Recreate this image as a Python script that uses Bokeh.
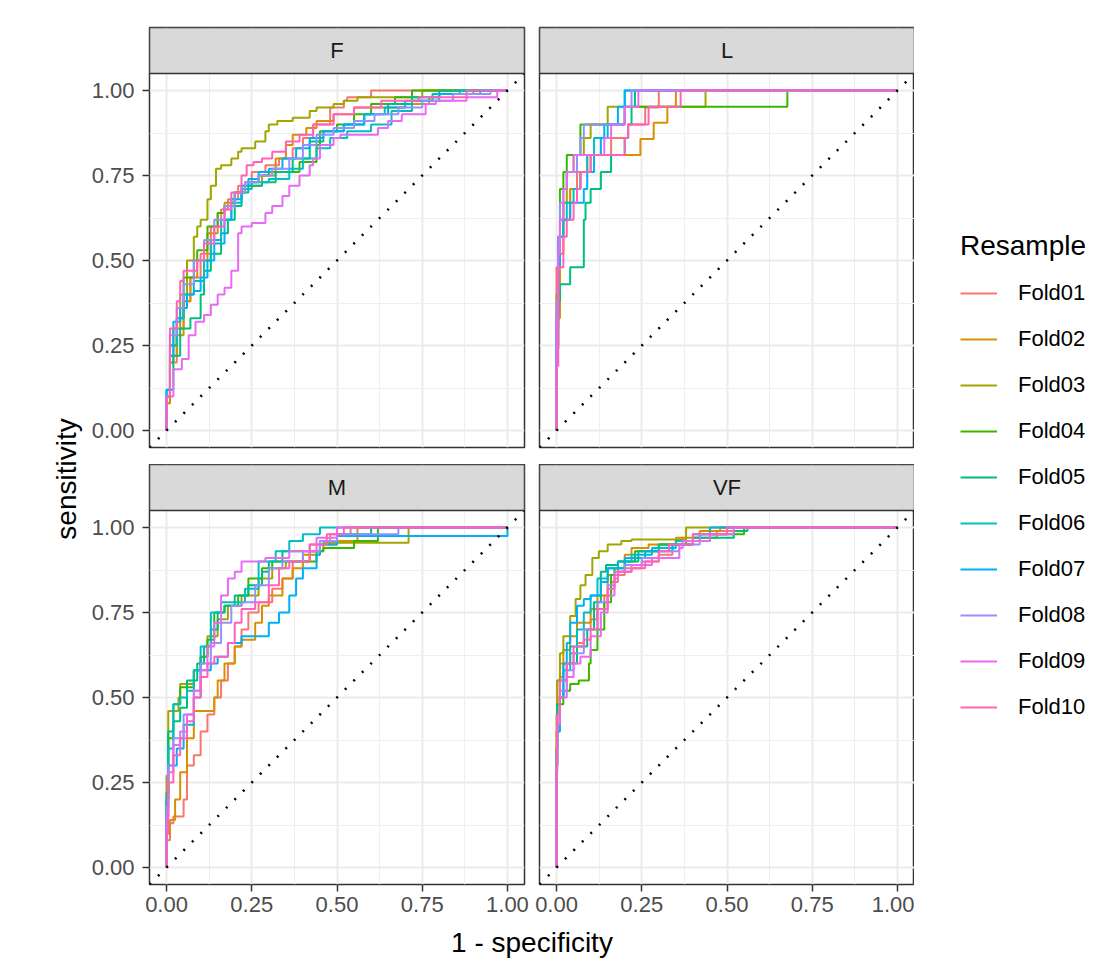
import math
from bokeh.plotting import figure
from bokeh.models import (Range1d, FixedTicker, NumeralTickFormatter, BoxAnnotation,
                          Label, Slope, Legend, LegendItem)
from bokeh.layouts import row, column
from bokeh.embed import file_html
from bokeh.resources import INLINE

# ---------------- data ----------------
CLASSES = ["F", "L", "M", "VF"]
FOLDS = ["Fold01", "Fold02", "Fold03", "Fold04", "Fold05",
         "Fold06", "Fold07", "Fold08", "Fold09", "Fold10"]
COLORS = ["#F8766D", "#D89000", "#A3A500", "#39B600", "#00BF7D",
          "#00BFC4", "#00B0F6", "#9590FF", "#E76BF3", "#FF62BC"]
TICKS = [0.0, 0.25, 0.5, 0.75, 1.0]
MINOR_TICKS = [0.125, 0.375, 0.625, 0.875]

# (1 - specificity, sensitivity) per fold
ROC_F = [
    [(0,0),(0.01,0.08),(0.03,0.2),(0.05,0.3),(0.07,0.38),(0.1,0.45),(0.13,0.52),(0.16,0.6),(0.18,0.65),(0.21,0.68),(0.25,0.72),(0.29,0.76),(0.33,0.78),(0.37,0.8),(0.4,0.83),(0.43,0.86),(0.48,0.9),(0.52,0.95),(0.53,0.97),(0.6,0.98),(0.63,1.0),(1,1)],
    [(0,0),(0.01,0.08),(0.03,0.22),(0.05,0.28),(0.07,0.38),(0.09,0.45),(0.12,0.5),(0.15,0.58),(0.17,0.64),(0.2,0.67),(0.23,0.7),(0.28,0.72),(0.32,0.75),(0.35,0.8),(0.37,0.84),(0.41,0.87),(0.44,0.89),(0.49,0.91),(0.55,0.93),(0.7,0.95),(0.77,0.96),(0.8,0.98),(0.9,0.99),(1,1)],
    [(0,0),(0.01,0.1),(0.02,0.2),(0.04,0.3),(0.06,0.4),(0.08,0.5),(0.09,0.57),(0.1,0.6),(0.12,0.62),(0.13,0.68),(0.145,0.72),(0.16,0.77),(0.19,0.78),(0.21,0.8),(0.22,0.82),(0.26,0.83),(0.29,0.85),(0.3,0.88),(0.325,0.9),(0.37,0.91),(0.42,0.92),(0.44,0.94),(0.49,0.95),(0.52,0.96),(0.56,0.97),(0.75,0.98),(0.85,1.0),(1,1)],
    [(0,0),(0.01,0.1),(0.03,0.25),(0.05,0.33),(0.08,0.45),(0.09,0.5),(0.12,0.53),(0.15,0.6),(0.17,0.64),(0.2,0.66),(0.23,0.7),(0.27,0.73),(0.3,0.75),(0.39,0.76),(0.44,0.79),(0.45,0.84),(0.5,0.88),(0.55,0.9),(0.6,0.93),(0.67,0.96),(0.72,0.98),(0.85,1.0),(1,1)],
    [(0,0),(0.02,0.12),(0.04,0.22),(0.07,0.3),(0.1,0.33),(0.11,0.4),(0.13,0.47),(0.16,0.52),(0.18,0.58),(0.2,0.62),(0.22,0.66),(0.24,0.7),(0.28,0.72),(0.32,0.73),(0.37,0.76),(0.42,0.8),(0.46,0.85),(0.52,0.88),(0.58,0.9),(0.65,0.93),(0.72,0.96),(0.8,0.98),(0.9,1.0),(1,1)],
    [(0,0),(0.01,0.1),(0.03,0.25),(0.05,0.33),(0.08,0.4),(0.11,0.44),(0.13,0.5),(0.16,0.56),(0.19,0.62),(0.22,0.67),(0.25,0.71),(0.3,0.73),(0.36,0.74),(0.4,0.77),(0.44,0.8),(0.48,0.83),(0.53,0.86),(0.6,0.88),(0.66,0.9),(0.72,0.94),(0.78,0.97),(0.86,0.99),(1,1)],
    [(0,0),(0.01,0.12),(0.02,0.22),(0.04,0.32),(0.06,0.36),(0.08,0.4),(0.1,0.41),(0.12,0.45),(0.14,0.5),(0.17,0.55),(0.19,0.62),(0.22,0.68),(0.24,0.72),(0.27,0.74),(0.3,0.76),(0.34,0.77),(0.38,0.8),(0.42,0.83),(0.46,0.86),(0.52,0.88),(0.58,0.9),(0.64,0.93),(0.7,0.95),(0.8,0.97),(0.92,0.99),(1,1)],
    [(0,0),(0.01,0.1),(0.03,0.28),(0.05,0.36),(0.08,0.43),(0.11,0.5),(0.14,0.56),(0.17,0.62),(0.2,0.66),(0.23,0.7),(0.27,0.73),(0.31,0.75),(0.36,0.77),(0.4,0.8),(0.44,0.84),(0.49,0.87),(0.55,0.89),(0.61,0.91),(0.68,0.93),(0.75,0.95),(0.84,0.97),(0.95,0.99),(1,1)],
    [(0,0),(0.02,0.1),(0.045,0.18),(0.065,0.21),(0.085,0.28),(0.11,0.32),(0.13,0.34),(0.15,0.37),(0.17,0.4),(0.19,0.42),(0.21,0.47),(0.22,0.58),(0.25,0.6),(0.29,0.61),(0.31,0.64),(0.34,0.66),(0.36,0.69),(0.39,0.72),(0.42,0.75),(0.43,0.78),(0.45,0.8),(0.49,0.84),(0.51,0.86),(0.62,0.87),(0.65,0.89),(0.69,0.91),(0.76,0.93),(0.79,0.96),(0.88,0.97),(0.97,0.98),(1,1)],
    [(0,0),(0.01,0.1),(0.03,0.3),(0.04,0.38),(0.05,0.44),(0.06,0.47),(0.09,0.47),(0.11,0.5),(0.14,0.55),(0.17,0.6),(0.19,0.65),(0.22,0.7),(0.235,0.75),(0.255,0.78),(0.28,0.79),(0.31,0.8),(0.35,0.82),(0.39,0.85),(0.43,0.87),(0.49,0.9),(0.55,0.93),(0.63,0.95),(0.74,0.97),(0.88,0.98),(1,1)],
]

ROC_L = [
    [(0,0),(0,0.29),(0.01,0.48),(0.02,0.62),(0.04,0.67),(0.06,0.71),(0.09,0.76),(0.12,0.81),(0.16,0.81),(0.18,0.86),(0.21,0.86),(0.26,0.9),(0.3,0.95),(0.31,1.0),(1,1)],
    [(0,0),(0.01,0.33),(0.02,0.52),(0.04,0.62),(0.07,0.71),(0.1,0.76),(0.12,0.81),(0.246,0.81),(0.285,0.857),(0.325,0.905),(0.35,0.952),(0.35,1.0),(1,1)],
    [(0,0),(0.005,0.4),(0.02,0.57),(0.03,0.67),(0.05,0.76),(0.08,0.81),(0.1,0.86),(0.15,0.9),(0.2,0.952),(0.437,0.952),(0.437,1.0),(1,1)],
    [(0,0),(0.005,0.25),(0.01,0.57),(0.02,0.71),(0.03,0.76),(0.07,0.81),(0.07,0.86),(0.13,0.9),(0.2,0.9),(0.21,0.952),(0.677,0.952),(0.677,1.0),(1,1)],
    [(0,0),(0.005,0.24),(0.01,0.38),(0.04,0.43),(0.08,0.48),(0.085,0.62),(0.1,0.67),(0.13,0.71),(0.16,0.76),(0.2,0.81),(0.21,0.86),(0.22,0.9),(0.23,0.952),(0.23,1.0),(1,1)],
    [(0,0),(0.005,0.3),(0.01,0.52),(0.03,0.62),(0.05,0.67),(0.07,0.71),(0.09,0.76),(0.11,0.81),(0.15,0.86),(0.2,0.9),(0.2,0.952),(0.21,1.0),(1,1)],
    [(0,0),(0.005,0.35),(0.01,0.48),(0.02,0.57),(0.04,0.62),(0.08,0.67),(0.09,0.71),(0.11,0.76),(0.13,0.81),(0.14,0.86),(0.18,0.9),(0.2,0.952),(0.2,1.0),(1,1)],
    [(0,0),(0.005,0.38),(0.01,0.57),(0.02,0.67),(0.03,0.71),(0.06,0.76),(0.07,0.81),(0.08,0.86),(0.1,0.9),(0.2,0.9),(0.22,0.952),(0.27,1.0),(1,1)],
    [(0,0),(0.005,0.33),(0.01,0.52),(0.02,0.62),(0.03,0.71),(0.05,0.76),(0.1,0.81),(0.14,0.81),(0.16,0.86),(0.2,0.9),(0.24,0.952),(0.25,1.0),(1,1)],
    [(0,0),(0.005,0.19),(0.02,0.48),(0.03,0.57),(0.05,0.62),(0.06,0.67),(0.07,0.71),(0.1,0.76),(0.14,0.81),(0.2,0.81),(0.21,0.86),(0.27,0.9),(0.3,0.952),(0.364,0.952),(0.364,1.0),(1,1)],
]

ROC_M = [
    [(0,0),(0.01,0.08),(0.02,0.13),(0.05,0.15),(0.06,0.2),(0.08,0.3),(0.1,0.33),(0.12,0.4),(0.14,0.45),(0.16,0.5),(0.18,0.55),(0.2,0.6),(0.22,0.65),(0.24,0.7),(0.27,0.75),(0.31,0.78),(0.34,0.82),(0.37,0.85),(0.42,0.9),(0.48,0.95),(0.54,0.98),(0.55,1.0),(1,1)],
    [(0,0),(0.01,0.1),(0.025,0.14),(0.04,0.2),(0.06,0.28),(0.08,0.38),(0.1,0.46),(0.14,0.46),(0.15,0.5),(0.17,0.55),(0.2,0.6),(0.22,0.65),(0.26,0.67),(0.28,0.72),(0.3,0.77),(0.34,0.8),(0.37,0.85),(0.4,0.88),(0.45,0.92),(0.5,0.95),(0.56,0.96),(0.6,1.0),(1,1)],
    [(0,0),(0.005,0.27),(0.01,0.46),(0.035,0.46),(0.04,0.5),(0.05,0.54),(0.08,0.54),(0.1,0.58),(0.12,0.62),(0.15,0.68),(0.18,0.73),(0.22,0.77),(0.27,0.8),(0.31,0.85),(0.35,0.88),(0.42,0.9),(0.46,0.93),(0.55,0.955),(0.71,0.955),(0.72,1.0),(1,1)],
    [(0,0),(0.005,0.2),(0.02,0.38),(0.04,0.48),(0.06,0.53),(0.08,0.53),(0.1,0.58),(0.12,0.62),(0.14,0.67),(0.17,0.75),(0.21,0.77),(0.24,0.8),(0.28,0.85),(0.31,0.88),(0.36,0.9),(0.44,0.9),(0.46,0.93),(0.55,0.94),(0.62,0.96),(0.65,1.0),(1,1)],
    [(0,0),(0.005,0.22),(0.02,0.4),(0.04,0.43),(0.06,0.47),(0.09,0.55),(0.11,0.6),(0.13,0.65),(0.15,0.7),(0.17,0.75),(0.2,0.77),(0.24,0.8),(0.28,0.83),(0.3,0.87),(0.34,0.9),(0.45,0.93),(0.5,0.96),(0.6,0.98),(0.62,1.0),(1,1)],
    [(0,0),(0.005,0.2),(0.02,0.35),(0.04,0.48),(0.06,0.5),(0.08,0.52),(0.1,0.58),(0.13,0.65),(0.16,0.75),(0.17,0.78),(0.23,0.78),(0.27,0.82),(0.32,0.9),(0.36,0.93),(0.4,0.96),(0.45,0.98),(0.48,1.0),(1,1)],
    [(0,0),(0.005,0.15),(0.03,0.3),(0.05,0.35),(0.08,0.42),(0.1,0.5),(0.13,0.58),(0.15,0.6),(0.18,0.62),(0.22,0.66),(0.26,0.68),(0.3,0.68),(0.33,0.72),(0.36,0.75),(0.38,0.8),(0.4,0.85),(0.44,0.88),(0.45,0.92),(0.5,0.95),(0.6,0.975),(1.0,0.975),(1.0,1.0)],
    [(0,0),(0.005,0.18),(0.02,0.3),(0.05,0.38),(0.08,0.45),(0.1,0.52),(0.13,0.6),(0.16,0.66),(0.19,0.72),(0.22,0.77),(0.26,0.78),(0.3,0.83),(0.34,0.88),(0.4,0.9),(0.45,0.93),(0.5,0.96),(0.68,0.98),(0.7,1.0),(1,1)],
    [(0,0),(0.005,0.15),(0.02,0.28),(0.04,0.36),(0.06,0.4),(0.08,0.45),(0.1,0.52),(0.12,0.58),(0.14,0.65),(0.16,0.72),(0.18,0.8),(0.2,0.85),(0.22,0.87),(0.29,0.9),(0.36,0.91),(0.44,0.93),(0.5,0.97),(0.53,1.0),(1,1)],
    [(0,0),(0.005,0.1),(0.02,0.25),(0.04,0.33),(0.06,0.38),(0.08,0.43),(0.1,0.5),(0.12,0.56),(0.14,0.6),(0.18,0.62),(0.2,0.66),(0.22,0.72),(0.26,0.76),(0.3,0.78),(0.33,0.83),(0.36,0.88),(0.42,0.9),(0.47,0.95),(0.52,0.98),(0.53,1.0),(1,1)],
]

ROC_VF = [
    [(0,0),(0.002,0.35),(0.01,0.5),(0.02,0.56),(0.04,0.6),(0.06,0.63),(0.08,0.66),(0.1,0.7),(0.12,0.73),(0.14,0.76),(0.16,0.8),(0.18,0.84),(0.2,0.86),(0.25,0.88),(0.3,0.9),(0.34,0.92),(0.4,0.95),(0.47,0.97),(0.55,0.99),(0.6,1.0),(1,1)],
    [(0,0),(0.002,0.4),(0.01,0.55),(0.02,0.6),(0.04,0.64),(0.06,0.68),(0.1,0.72),(0.12,0.76),(0.15,0.8),(0.18,0.86),(0.2,0.9),(0.22,0.92),(0.27,0.94),(0.35,0.95),(0.42,0.97),(0.48,0.99),(0.55,1.0),(1,1)],
    [(0,0),(0.002,0.45),(0.01,0.55),(0.02,0.63),(0.04,0.68),(0.056,0.74),(0.07,0.79),(0.085,0.83),(0.105,0.86),(0.124,0.91),(0.15,0.93),(0.19,0.95),(0.22,0.96),(0.38,0.965),(0.38,0.99),(0.43,1.0),(1,1)],
    [(0,0),(0.002,0.3),(0.01,0.42),(0.02,0.48),(0.04,0.52),(0.065,0.54),(0.095,0.55),(0.1,0.6),(0.12,0.64),(0.14,0.7),(0.16,0.78),(0.17,0.86),(0.2,0.88),(0.23,0.9),(0.3,0.93),(0.38,0.95),(0.45,0.96),(0.55,0.98),(0.6,1.0),(1,1)],
    [(0,0),(0.002,0.35),(0.01,0.48),(0.03,0.55),(0.06,0.6),(0.09,0.65),(0.11,0.7),(0.13,0.78),(0.145,0.87),(0.18,0.89),(0.24,0.9),(0.3,0.93),(0.4,0.95),(0.52,0.97),(0.56,0.99),(0.6,1.0),(1,1)],
    [(0,0),(0.002,0.3),(0.01,0.42),(0.02,0.5),(0.04,0.58),(0.06,0.65),(0.08,0.7),(0.1,0.75),(0.12,0.8),(0.15,0.85),(0.18,0.88),(0.22,0.9),(0.28,0.92),(0.35,0.94),(0.42,0.96),(0.5,0.98),(0.56,1.0),(1,1)],
    [(0,0),(0.002,0.28),(0.01,0.4),(0.02,0.5),(0.03,0.6),(0.04,0.66),(0.06,0.72),(0.08,0.77),(0.1,0.79),(0.13,0.8),(0.15,0.84),(0.2,0.88),(0.26,0.91),(0.34,0.93),(0.4,0.95),(0.45,0.98),(0.48,1.0),(1,1)],
    [(0,0),(0.002,0.33),(0.01,0.45),(0.03,0.52),(0.05,0.58),(0.08,0.63),(0.12,0.7),(0.15,0.78),(0.17,0.83),(0.2,0.87),(0.25,0.89),(0.3,0.91),(0.36,0.93),(0.42,0.95),(0.5,0.98),(0.56,1.0),(1,1)],
    [(0,0),(0.002,0.3),(0.01,0.42),(0.03,0.5),(0.05,0.56),(0.07,0.6),(0.1,0.62),(0.13,0.68),(0.15,0.75),(0.17,0.8),(0.18,0.85),(0.22,0.87),(0.28,0.89),(0.36,0.91),(0.37,0.94),(0.45,0.96),(0.52,0.98),(0.58,1.0),(1,1)],
    [(0,0),(0.002,0.3),(0.01,0.45),(0.03,0.55),(0.05,0.6),(0.08,0.65),(0.1,0.67),(0.12,0.7),(0.15,0.76),(0.17,0.82),(0.18,0.86),(0.22,0.87),(0.26,0.88),(0.3,0.9),(0.33,0.93),(0.4,0.95),(0.5,0.98),(0.55,1.0),(1,1)],
]

ROC = {"F": ROC_F, "L": ROC_L, "M": ROC_M, "VF": ROC_VF}

# ---------------- styling / geometry (page has no margin) ----------------
FONT = "Liberation Sans"
PANEL_W = 375
PANEL_H = 374
STRIP_H = 46
LO, HI = -0.05, 1.05
PPU_Y = PANEL_H / (HI - LO)
STRIP_TOP = HI + STRIP_H / PPU_Y
YLAB_W = 83
LEFT_AXIS_W = 149 - YLAB_W
GAP_L, GAP_R = 8, 7
TOP_PAD, ROW_GAP, BOTTOM_AXIS_H = 27, 17, 40
XLAB_H = 44


def facet(name, left_axis, bottom_axis):
    mbl = LEFT_AXIS_W if left_axis else GAP_R
    mbr = GAP_L if left_axis else 0
    mbt = 0 if bottom_axis else TOP_PAD
    mbb = BOTTOM_AXIS_H if bottom_axis else ROW_GAP
    p = figure(width=mbl + PANEL_W + mbr, height=mbt + STRIP_H + PANEL_H + mbb,
               x_range=Range1d(LO, HI), y_range=Range1d(LO, STRIP_TOP),
               x_axis_location="below" if bottom_axis else None,
               y_axis_location="left" if left_axis else None,
               toolbar_location=None, output_backend="svg",
               min_border_left=mbl, min_border_right=mbr,
               min_border_top=mbt, min_border_bottom=mbb)
    p.background_fill_color = "white"
    p.border_fill_color = "white"
    p.outline_line_color = "#333333"
    p.outline_line_width = 1.5

    for g in (p.xgrid, p.ygrid):
        g.ticker = FixedTicker(ticks=TICKS, minor_ticks=MINOR_TICKS)
        g.grid_line_color = "#EBEBEB"
        g.grid_line_width = 2
        g.minor_grid_line_color = "#EFEFEF"
        g.minor_grid_line_width = 1

    axes = []
    if left_axis:
        axes.append((p.yaxis[0], 8))
    if bottom_axis:
        axes.append((p.xaxis[0], 5))
    for ax, standoff in axes:
        ax.ticker = FixedTicker(ticks=TICKS)
        ax.formatter = NumeralTickFormatter(format="0.00")
        ax.axis_line_color = None
        ax.major_tick_line_color = "#333333"
        ax.major_tick_line_width = 1.5
        ax.major_tick_out = 7
        ax.major_tick_in = 0
        ax.minor_tick_line_color = None
        ax.major_label_text_font = FONT
        ax.major_label_text_font_size = "22px"
        ax.major_label_text_color = "#4D4D4D"
        ax.major_label_standoff = standoff

    for fold, color, pts in zip(FOLDS, COLORS, ROC[name]):
        xs = [a for a, b in pts]
        ys = [b for a, b in pts]
        p.step(xs, ys, mode="before", line_color=color, line_width=2)

    p.add_layout(Slope(gradient=1, y_intercept=0, line_color="black",
                       line_width=2.5, line_dash="2 10"))
    p.add_layout(BoxAnnotation(bottom=HI, fill_color="#D9D9D9", fill_alpha=1.0,
                               line_color="#333333", line_alpha=1.0, line_width=1.5))
    p.add_layout(Label(x=0.5, y=HI + (STRIP_H / 2) / PPU_Y, text=name,
                       text_align="center", text_baseline="middle",
                       text_font=FONT, text_font_size="22px", text_color="#1A1A1A"))
    return p


pF = facet("F", True, False)
pL = facet("L", False, False)
pM = facet("M", True, True)
pVF = facet("VF", False, True)

TOP_ROW_H = TOP_PAD + STRIP_H + PANEL_H + ROW_GAP
BOT_ROW_H = STRIP_H + PANEL_H + BOTTOM_AXIS_H
TOTAL_H = TOP_ROW_H + BOT_ROW_H + XLAB_H
GRID_W = (LEFT_AXIS_W + PANEL_W + GAP_L) + (GAP_R + PANEL_W)


def title_axis_style(ax, text):
    ax.ticker = FixedTicker(ticks=[])
    ax.axis_line_color = None
    ax.major_tick_line_color = None
    ax.minor_tick_line_color = None
    ax.axis_label = text
    ax.axis_label_text_font = FONT
    ax.axis_label_text_font_size = "28px"
    ax.axis_label_text_font_style = "normal"
    ax.axis_label_text_color = "black"
    ax.axis_label_standoff = 1


# y-axis title: an axis whose frame spans the panel area below the first strip
PANELS_TOP = TOP_PAD + STRIP_H
PANELS_BOTTOM = TOP_ROW_H + STRIP_H + PANEL_H
ylab = figure(width=YLAB_W, height=TOTAL_H, x_range=Range1d(0, 1), y_range=Range1d(0, 1),
              x_axis_location=None, y_axis_location="left",
              toolbar_location=None, output_backend="svg",
              min_border_left=YLAB_W - 1, min_border_right=0,
              min_border_top=PANELS_TOP, min_border_bottom=TOTAL_H - PANELS_BOTTOM)
ylab.outline_line_color = None
ylab.grid.visible = False
title_axis_style(ylab.yaxis[0], "sensitivity")

# x-axis title: an axis whose frame spans both columns of panels
xlab = figure(width=GRID_W, height=XLAB_H, x_range=Range1d(0, 1), y_range=Range1d(0, 1),
              x_axis_location="below", y_axis_location=None,
              toolbar_location=None, output_backend="svg",
              min_border_left=LEFT_AXIS_W, min_border_right=0,
              min_border_top=0, min_border_bottom=XLAB_H - 1)
xlab.outline_line_color = None
xlab.grid.visible = False
title_axis_style(xlab.xaxis[0], "1 - specificity")

# legend panel
leg = figure(width=190, height=TOTAL_H, x_range=Range1d(0, 1), y_range=Range1d(0, 1),
             x_axis_location=None, y_axis_location=None, toolbar_location=None,
             output_backend="svg", min_border_left=46, min_border_top=230,
             min_border_right=0, min_border_bottom=0)
leg.outline_line_color = None
leg.grid.visible = False
items = []
for fold, color in zip(FOLDS, COLORS):
    r = leg.line(x=[-10, -9], y=[-10, -9], line_color=color, line_width=2)
    items.append(LegendItem(label=fold, renderers=[r]))
legend = Legend(items=items, location="top_left", title="Resample",
                title_text_font=FONT, title_text_font_size="28px",
                title_text_font_style="normal", title_text_color="black",
                title_standoff=18,
                label_text_font=FONT, label_text_font_size="22px",
                label_text_color="black",
                glyph_width=37, glyph_height=26, label_height=26,
                label_standoff=21, spacing=20, padding=0, margin=0,
                border_line_color=None, background_fill_alpha=0)
leg.add_layout(legend)

# each side figure sits in its own column so the row does not align their borders
layout = row(column(ylab),
             column(row(pF, pL), row(pM, pVF), xlab),
             column(leg))

open("out.html", "w").write(file_html(layout, INLINE))
